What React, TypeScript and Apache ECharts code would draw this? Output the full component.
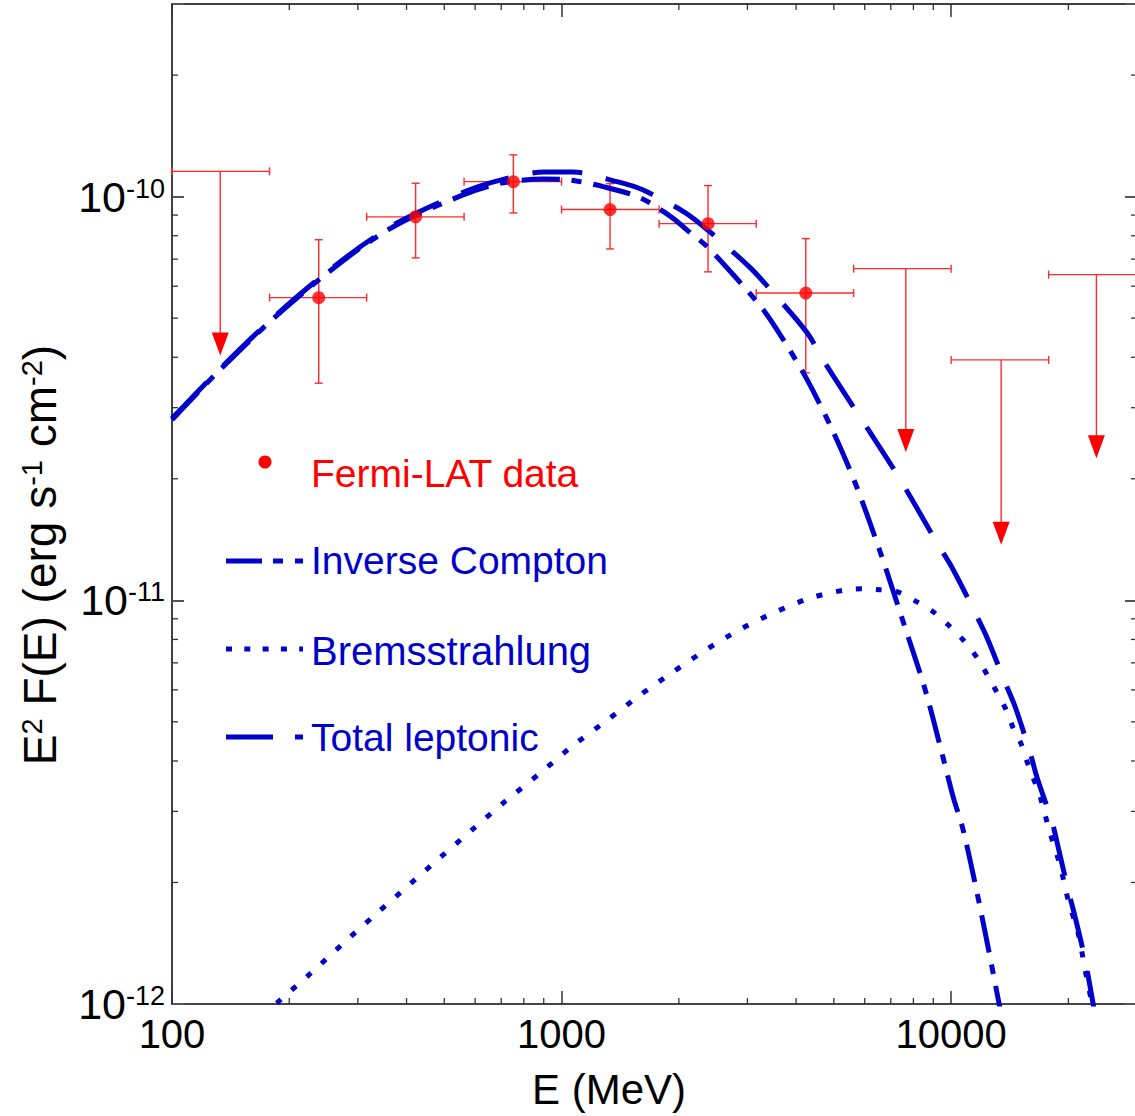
import React, { useEffect, useRef } from 'react';
import * as echarts from 'echarts';

const FONT = '"Liberation Sans", Arial, Helvetica, sans-serif';
const BLUE = '#0000cc';
const RED = '#ff0000';
const ERR = '#ff2a2a';

const xMin = 100;
const xMax = 30000;
const yMin = 1e-12;
const yMax = 3e-10;

const xMajorLabels = [100, 1000, 10000];
const yMajorLabels = [1e-12, 1e-11, 1e-10];
const xMinorTicks = [200, 300, 400, 500, 600, 700, 800, 900, 2000, 3000, 4000, 5000, 6000, 7000, 8000, 9000, 20000];
const yMinorTicks = [
  2e-12, 3e-12, 4e-12, 5e-12, 6e-12, 7e-12, 8e-12, 9e-12,
  2e-11, 3e-11, 4e-11, 5e-11, 6e-11, 7e-11, 8e-11, 9e-11,
  2e-10,
];

// Fermi-LAT points: [E, F, Elo, Ehi, Flo, Fhi]
const fermiPoints = [
  [238, 5.62e-11, 178, 316, 3.45e-11, 7.82e-11],
  [422, 8.91e-11, 316, 562, 7.05e-11, 1.079e-10],
  [752, 1.089e-10, 562, 1000, 9.11e-11, 1.269e-10],
  [1332, 9.29e-11, 1000, 1780, 7.42e-11, 1.077e-10],
  [2377, 8.57e-11, 1780, 3160, 6.51e-11, 1.065e-10],
  [4236, 5.77e-11, 3160, 5620, 3.66e-11, 7.87e-11],
];

// Upper limits: [E, F, Elo, Ehi, Ftip]
const upperLimits = [
  [133, 1.155e-10, 100, 178, 4.04e-11],
  [7650, 6.63e-11, 5620, 10000, 2.33e-11],
  [13440, 3.94e-11, 10000, 17800, 1.373e-11],
  [23600, 6.41e-11, 17800, 31600, 2.25e-11],
];

const icCurve = [
  [100, 2.80e-11], [133, 3.73e-11], [191, 5.20e-11], [281, 7.05e-11], [378, 8.52e-11],
  [559, 1.01e-10], [700, 1.08e-10], [900, 1.105e-10], [1041, 1.10e-10], [1278, 1.059e-10],
  [1591, 9.94e-11], [1922, 8.87e-11], [2138, 8.14e-11], [2363, 7.52e-11], [2789, 6.33e-11],
  [3291, 5.25e-11], [3748, 4.35e-11], [4269, 3.52e-11], [4949, 2.65e-11], [5669, 1.955e-11],
  [6572, 1.319e-11], [7531, 8.85e-12], [8579, 6.00e-12], [9539, 4.07e-12], [10118, 3.26e-12],
  [10735, 2.70e-12], [11731, 1.83e-12], [12741, 1.23e-12], [13281, 1.0e-12], [13600, 0.9e-12],
];

const bremsCurve = [
  [170, 0.93e-12], [186, 1.006e-12], [226, 1.187e-12], [274, 1.408e-12], [334, 1.671e-12],
  [406, 1.972e-12], [490, 2.314e-12], [593, 2.714e-12], [719, 3.184e-12], [876, 3.715e-12],
  [1067, 4.358e-12], [1293, 5.00e-12], [1581, 5.80e-12], [1934, 6.65e-12], [2350, 7.54e-12],
  [2890, 8.50e-12], [3554, 9.37e-12], [4364, 1.014e-11], [5375, 1.062e-11], [5943, 1.068e-11],
  [6572, 1.062e-11], [7268, 1.050e-11], [8085, 9.97e-12], [8991, 9.37e-12], [9884, 8.65e-12],
  [10735, 7.98e-12], [11665, 7.20e-12], [12373, 6.54e-12], [13126, 5.90e-12], [13847, 5.35e-12],
  [14431, 4.83e-12], [15125, 4.41e-12], [15671, 3.98e-12], [16925, 3.26e-12], [17846, 2.70e-12],
  [19050, 2.20e-12], [19970, 1.81e-12], [21180, 1.50e-12], [22080, 1.215e-12], [23000, 1.0e-12],
  [23500, 0.9e-12],
];

const totalCurve = [
  [100, 2.82e-11], [133, 3.75e-11], [191, 5.23e-11], [281, 7.10e-11], [378, 8.60e-11],
  [559, 1.025e-10], [700, 1.10e-10], [900, 1.15e-10], [1072, 1.15e-10], [1388, 1.089e-10],
  [1610, 1.041e-10], [2075, 9.13e-11], [2363, 8.29e-11], [3048, 6.67e-11], [3491, 5.78e-11],
  [4269, 4.60e-11], [4692, 3.94e-11], [5602, 3.02e-11], [6122, 2.65e-11], [7268, 2.05e-11],
  [7940, 1.775e-11], [9261, 1.373e-11], [10060, 1.204e-11], [11525, 9.31e-12], [12373, 8.07e-12],
  [13763, 6.25e-12], [14600, 5.45e-12], [15950, 4.19e-12], [16630, 3.63e-12], [18170, 2.82e-12],
  [18820, 2.45e-12], [19970, 1.916e-12], [20810, 1.643e-12], [22080, 1.285e-12], [23150, 1.0e-12],
  [23600, 0.9e-12],
];

const legendItems = ['Fermi-LAT data', 'Inverse Compton', 'Bremsstrahlung', 'Total leptonic'];

function isMajor(v: number, list: number[]) {
  return list.some((m) => Math.abs(Math.log10(v) - Math.log10(m)) < 1e-6);
}

function buildOption() {
  const tickStyle = { stroke: '#333', lineWidth: 1.3 };
  const errStyle = { stroke: ERR, lineWidth: 1.4 };

  const axisCommonX = {
    type: 'log',
    logBase: 10,
    min: xMin,
    max: xMax,
    splitLine: { show: false },
    minorTick: { show: false },
    minorSplitLine: { show: false },
  };
  const axisCommonY = {
    type: 'log',
    logBase: 10,
    min: yMin,
    max: yMax,
    splitLine: { show: false },
    minorTick: { show: false },
    minorSplitLine: { show: false },
  };

  return {
    animation: false,
    backgroundColor: '#ffffff',
    textStyle: { fontFamily: FONT },
    grid: { left: 172, top: 4, right: -2, bottom: 112, containLabel: false, outerBoundsMode: 'none' },
    xAxis: [
      {
        ...axisCommonX,
        position: 'bottom',
        axisLine: { show: true, onZero: false, lineStyle: { color: '#444', width: 2 } },
        axisTick: { show: true, inside: true, length: 13, lineStyle: { color: '#333', width: 1.5 } },
        axisLabel: {
          show: true,
          margin: 10,
          fontSize: 40,
          color: '#000',
          fontFamily: FONT,
          formatter: (v: number) => (isMajor(v, xMajorLabels) ? String(Math.round(v)) : ''),
        },
      },
      {
        ...axisCommonX,
        position: 'top',
        axisLine: { show: true, onZero: false, lineStyle: { color: '#000', width: 1.5 } },
        axisTick: { show: true, inside: true, length: 13, lineStyle: { color: '#333', width: 1.5 } },
        axisLabel: { show: false },
      },
    ],
    yAxis: [
      {
        ...axisCommonY,
        position: 'left',
        axisLine: { show: true, onZero: false, lineStyle: { color: '#000', width: 1.5 } },
        axisTick: { show: true, inside: true, length: 12, lineStyle: { color: '#555', width: 2 } },
        axisLabel: {
          show: true,
          margin: 7,
          color: '#000',
          fontFamily: FONT,
          formatter: (v: number) => {
            if (!isMajor(v, yMajorLabels)) return '';
            const e = Math.round(Math.log10(v));
            return '{b|10}{s|' + String(e) + '}';
          },
          rich: {
            b: { fontSize: 43, fontFamily: FONT, color: '#000' },
            s: { fontSize: 27, fontFamily: FONT, color: '#000', verticalAlign: 'top' },
          },
        },
      },
      {
        ...axisCommonY,
        position: 'right',
        axisLine: { show: true, onZero: false, lineStyle: { color: '#000', width: 1.5 } },
        axisTick: { show: true, inside: true, length: 12, lineStyle: { color: '#555', width: 2 } },
        axisLabel: { show: false },
      },
    ],
    graphic: [
      // axis titles
      {
        type: 'text',
        x: 609,
        y: 1089,
        style: {
          text: 'E (MeV)',
          fontSize: 42,
          fontFamily: FONT,
          fill: '#000',
          align: 'center',
          verticalAlign: 'middle',
        },
      },
      {
        type: 'text',
        x: 40,
        y: 555,
        rotation: Math.PI / 2,
        style: {
          text: '{a|E}{s|2}{a| F(E) (erg s}{s|-1}{a| cm}{s|-2}{a|)}',
          align: 'center',
          verticalAlign: 'middle',
          rich: {
            a: { fontSize: 46, fontFamily: FONT, fill: '#000', color: '#000' },
            s: { fontSize: 29, fontFamily: FONT, fill: '#000', color: '#000', verticalAlign: 'top' },
          },
        },
      },
      // legend
      { type: 'circle', shape: { cx: 265, cy: 462, r: 6.5 }, style: { fill: RED } },
      {
        type: 'text', x: 311, y: 473,
        style: { text: legendItems[0], fontSize: 39, fontFamily: FONT, fill: RED, verticalAlign: 'middle' },
      },
      {
        type: 'line', shape: { x1: 226, y1: 561, x2: 303, y2: 561 },
        style: { stroke: BLUE, lineWidth: 5, lineDash: [36, 11, 10, 12] },
      },
      {
        type: 'text', x: 311, y: 560,
        style: { text: legendItems[1], fontSize: 39, fontFamily: FONT, fill: BLUE, verticalAlign: 'middle' },
      },
      {
        type: 'line', shape: { x1: 226, y1: 649, x2: 303, y2: 649 },
        style: { stroke: BLUE, lineWidth: 5, lineDash: [6, 12.3] },
      },
      {
        type: 'text', x: 311, y: 651,
        style: { text: legendItems[2], fontSize: 40, fontFamily: FONT, fill: BLUE, verticalAlign: 'middle' },
      },
      {
        type: 'line', shape: { x1: 226, y1: 737, x2: 303, y2: 737 },
        style: { stroke: BLUE, lineWidth: 5, lineDash: [47, 22] },
      },
      {
        type: 'text', x: 311, y: 737,
        style: { text: legendItems[3], fontSize: 39, fontFamily: FONT, fill: BLUE, verticalAlign: 'middle' },
      },
    ],
    series: [
      // minor x ticks
      {
        type: 'custom',
        coordinateSystem: 'cartesian2d',
        silent: true,
        clip: false,
        z: 6,
        encode: { x: 0, y: 1 },
        data: xMinorTicks.map((v) => [v, yMin]),
        renderItem: (params: any, api: any) => {
          const cs = params.coordSys;
          const px = api.coord([api.value(0), api.value(1)])[0];
          const bottom = cs.y + cs.height;
          return {
            type: 'group',
            children: [
              { type: 'line', shape: { x1: px, y1: bottom, x2: px, y2: bottom - 6 }, style: tickStyle },
              { type: 'line', shape: { x1: px, y1: cs.y, x2: px, y2: cs.y + 6 }, style: tickStyle },
            ],
          };
        },
      },
      // minor y ticks
      {
        type: 'custom',
        coordinateSystem: 'cartesian2d',
        silent: true,
        clip: false,
        z: 6,
        encode: { x: 0, y: 1 },
        data: yMinorTicks.map((v) => [xMin, v]),
        renderItem: (params: any, api: any) => {
          const cs = params.coordSys;
          const py = api.coord([api.value(0), api.value(1)])[1];
          const right = cs.x + cs.width;
          return {
            type: 'group',
            children: [
              { type: 'line', shape: { x1: cs.x, y1: py, x2: cs.x + 6, y2: py }, style: tickStyle },
              { type: 'line', shape: { x1: right, y1: py, x2: right - 6, y2: py }, style: tickStyle },
            ],
          };
        },
      },
      // error bars
      {
        type: 'custom',
        coordinateSystem: 'cartesian2d',
        silent: true,
        clip: false,
        z: 1,
        encode: { x: 0, y: 1 },
        data: fermiPoints,
        renderItem: (params: any, api: any) => {
          const c = api.coord([api.value(0), api.value(1)]);
          const l = api.coord([api.value(2), api.value(1)]);
          const r = api.coord([api.value(3), api.value(1)]);
          const lo = api.coord([api.value(0), api.value(4)]);
          const hi = api.coord([api.value(0), api.value(5)]);
          const cap = 4;
          return {
            type: 'group',
            children: [
              { type: 'line', shape: { x1: l[0], y1: c[1], x2: r[0], y2: c[1] }, style: errStyle },
              { type: 'line', shape: { x1: l[0], y1: c[1] - cap, x2: l[0], y2: c[1] + cap }, style: errStyle },
              { type: 'line', shape: { x1: r[0], y1: c[1] - cap, x2: r[0], y2: c[1] + cap }, style: errStyle },
              { type: 'line', shape: { x1: c[0], y1: lo[1], x2: c[0], y2: hi[1] }, style: errStyle },
              { type: 'line', shape: { x1: c[0] - cap, y1: lo[1], x2: c[0] + cap, y2: lo[1] }, style: errStyle },
              { type: 'line', shape: { x1: c[0] - cap, y1: hi[1], x2: c[0] + cap, y2: hi[1] }, style: errStyle },
            ],
          };
        },
      },
      // upper limits
      {
        type: 'custom',
        coordinateSystem: 'cartesian2d',
        silent: true,
        clip: false,
        z: 1,
        encode: { x: 0, y: 1 },
        data: upperLimits,
        renderItem: (params: any, api: any) => {
          const c = api.coord([api.value(0), api.value(1)]);
          const l = api.coord([api.value(2), api.value(1)]);
          const r = api.coord([api.value(3), api.value(1)]);
          const tip = api.coord([api.value(0), api.value(4)]);
          const cap = 4;
          const headH = 23;
          const headW = 8.5;
          return {
            type: 'group',
            children: [
              { type: 'line', shape: { x1: l[0], y1: c[1], x2: r[0], y2: c[1] }, style: errStyle },
              { type: 'line', shape: { x1: l[0], y1: c[1] - cap, x2: l[0], y2: c[1] + cap }, style: errStyle },
              { type: 'line', shape: { x1: r[0], y1: c[1] - cap, x2: r[0], y2: c[1] + cap }, style: errStyle },
              { type: 'line', shape: { x1: c[0], y1: c[1], x2: c[0], y2: tip[1] - headH + 1 }, style: errStyle },
              {
                type: 'polygon',
                shape: { points: [[c[0] - headW, tip[1] - headH], [c[0] + headW, tip[1] - headH], [c[0], tip[1]]] },
                style: { fill: RED },
              },
            ],
          };
        },
      },
      {
        name: 'Inverse Compton',
        type: 'line',
        data: icCurve,
        showSymbol: false,
        symbol: 'none',
        smooth: 0.3,
        z: 3,
        lineStyle: { color: BLUE, width: 5, type: [38, 12, 10, 12], cap: 'butt' },
      },
      {
        name: 'Bremsstrahlung',
        type: 'line',
        data: bremsCurve,
        showSymbol: false,
        symbol: 'none',
        smooth: 0.3,
        z: 3,
        lineStyle: { color: BLUE, width: 5, type: [6, 14], cap: 'butt' },
      },
      {
        name: 'Total leptonic',
        type: 'line',
        data: totalCurve,
        showSymbol: false,
        symbol: 'none',
        smooth: 0.3,
        z: 3,
        lineStyle: { color: BLUE, width: 5, type: [50, 24], cap: 'butt' },
      },
      {
        name: 'Fermi-LAT data',
        type: 'scatter',
        data: fermiPoints.map((p) => [p[0], p[1]]),
        symbol: 'circle',
        symbolSize: 13,
        z: 4,
        itemStyle: { color: RED },
      },
    ],
  };
}

export default function App() {
  const ref = useRef<HTMLDivElement>(null);
  useEffect(() => {
    if (!ref.current) return;
    const chart = echarts.init(ref.current, null, { renderer: 'svg' });
    chart.setOption(buildOption() as any);
    return () => {
      chart.dispose();
    };
  }, []);
  return (
    <div
      ref={ref}
      style={{ position: 'absolute', left: 0, top: 0, width: 1135, height: 1116, background: '#fff' }}
    />
  );
}
